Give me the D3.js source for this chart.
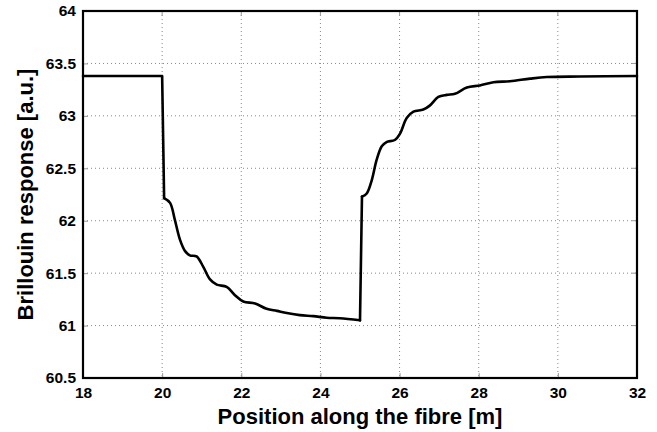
<!DOCTYPE html>
<html><head><meta charset="utf-8">
<script src="https://cdn.jsdelivr.net/npm/d3@7"></script>
<style>body{margin:0;background:#fff}svg{display:block}text{font-family:"Liberation Sans",Arial,sans-serif;font-weight:bold}</style>
</head><body>
<script>
const positions = [18, 20.0, 20.05, 20.2, 20.32, 20.45, 20.58, 20.7, 20.87, 21.04, 21.21, 21.38, 21.63, 21.84, 22.05, 22.35, 22.64, 22.9, 23.15, 23.48, 23.82, 24.16, 24.49, 25.0,
  25.05, 25.17, 25.3, 25.42, 25.55, 25.67, 25.88, 26.01, 26.18, 26.35, 26.6, 26.77, 26.98, 27.19, 27.4, 27.7, 28.03, 28.37, 28.79, 29.3, 29.72, 30.56, 32];
const response = [63.38, 63.38, 62.215, 62.17, 62.01, 61.82, 61.71, 61.67, 61.66, 61.56, 61.44, 61.39, 61.37, 61.29, 61.23, 61.21, 61.16, 61.14, 61.12, 61.10, 61.09, 61.075, 61.07, 61.05,
  62.23, 62.26, 62.39, 62.58, 62.71, 62.75, 62.77, 62.83, 62.98, 63.04, 63.06, 63.10, 63.18, 63.20, 63.21, 63.27, 63.29, 63.32, 63.33, 63.355, 63.37, 63.375, 63.38];
const xTicks = [18, 20, 22, 24, 26, 28, 30, 32];
const yTicks = [60.5, 61, 61.5, 62, 62.5, 63, 63.5, 64];
const xTitle = "Position along the fibre [m]";
const yTitle = "Brillouin response [a.u.]";

const W = 657, H = 432;
const m = {l: 83, r: 20, t: 11, b: 54};
const svg = d3.select("body").append("svg").attr("width", W).attr("height", H);
const x = d3.scaleLinear().domain([18, 32]).range([m.l, W - m.r]);
const y = d3.scaleLinear().domain([60.5, 64]).range([H - m.b, m.t]);

// grid
svg.append("g").selectAll("line").data(xTicks.slice(1, -1)).join("line")
  .attr("x1", d => x(d)).attr("x2", d => x(d)).attr("y1", m.t).attr("y2", H - m.b)
  .attr("stroke", "#888").attr("stroke-width", 1).attr("stroke-dasharray", "1,3");
svg.append("g").selectAll("line").data(yTicks.slice(1, -1)).join("line")
  .attr("y1", d => y(d)).attr("y2", d => y(d)).attr("x1", m.l).attr("x2", W - m.r)
  .attr("stroke", "#888").attr("stroke-width", 1).attr("stroke-dasharray", "1,3");

// axes
const xa = svg.append("g").attr("transform", `translate(0,${H - m.b})`)
  .call(d3.axisBottom(x).tickValues(xTicks).tickFormat(d3.format("d")).tickSize(-5).tickPadding(9));
const ya = svg.append("g").attr("transform", `translate(${m.l},0)`)
  .call(d3.axisLeft(y).tickValues(yTicks).tickFormat(d => String(d)).tickSize(-5).tickPadding(7));
[xa, ya].forEach(a => {
  a.select(".domain").remove();
  a.selectAll(".tick line").attr("stroke", "#999");
  a.selectAll("text").attr("font-size", 15.5).attr("fill", "#000").attr("font-family", "'Liberation Sans',Arial,sans-serif").attr("font-weight", "bold");
});
// right / top ticks
svg.append("g").selectAll("line").data(yTicks).join("line")
  .attr("x1", W - m.r).attr("x2", W - m.r - 5).attr("y1", d => y(d)).attr("y2", d => y(d)).attr("stroke", "#999");
svg.append("g").selectAll("line").data(xTicks).join("line")
  .attr("y1", m.t).attr("y2", m.t + 5).attr("x1", d => x(d)).attr("x2", d => x(d)).attr("stroke", "#999");

// frame
svg.append("rect").attr("x", m.l).attr("y", m.t).attr("width", W - m.r - m.l).attr("height", H - m.b - m.t)
  .attr("fill", "none").attr("stroke", "#000").attr("stroke-width", 2.2);

// curve: straight steps, smooth transients
const data = positions.map((p, i) => [p, response[i]]);
const segs = [
  {pts: data.slice(0, 3), curve: d3.curveLinear},
  {pts: data.slice(2, 24), curve: d3.curveCatmullRom.alpha(0.5)},
  {pts: data.slice(23, 25), curve: d3.curveLinear},
  {pts: data.slice(24), curve: d3.curveCatmullRom.alpha(0.5)}
];
segs.forEach(s => {
  svg.append("path").datum(s.pts)
    .attr("d", d3.line().x(d => x(d[0])).y(d => y(d[1])).curve(s.curve))
    .attr("fill", "none").attr("stroke", "#000").attr("stroke-width", 2.6)
    .attr("stroke-linejoin", "round").attr("stroke-linecap", "round");
});

// titles
svg.append("text").attr("x", (m.l + W - m.r) / 2).attr("y", 424).attr("text-anchor", "middle")
  .attr("font-size", 22).text(xTitle);
svg.append("text").attr("transform", `translate(33,${(m.t + H - m.b) / 2}) rotate(-90)`).attr("text-anchor", "middle")
  .attr("font-size", 22).text(yTitle);
</script>
</body></html>
